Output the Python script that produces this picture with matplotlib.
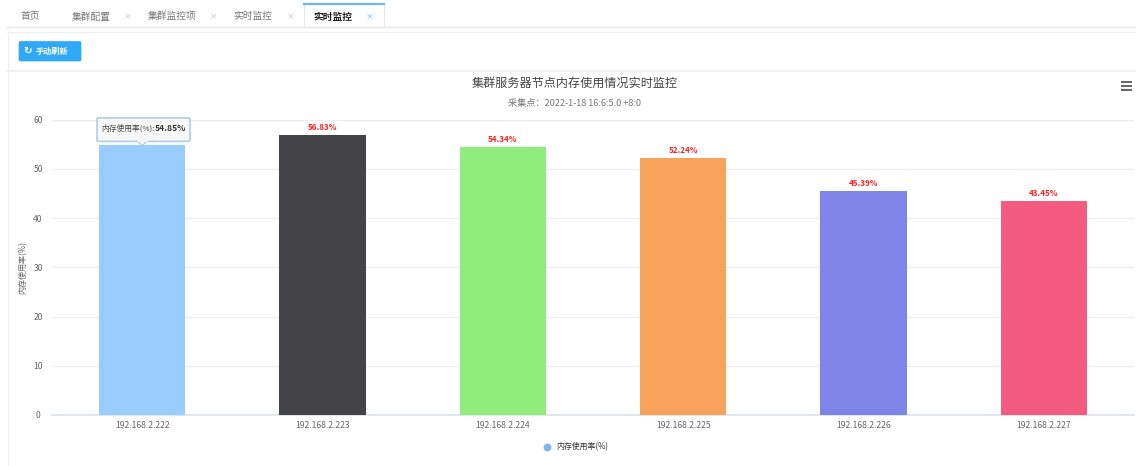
import matplotlib
matplotlib.use("Agg")
import matplotlib.pyplot as plt
from matplotlib.patches import Rectangle, FancyBboxPatch, Polygon

plt.rcParams['font.family'] = ['Noto Sans CJK SC', 'DejaVu Sans']

# chart data
hosts = ["192.168.2.222", "192.168.2.223", "192.168.2.224",
         "192.168.2.225", "192.168.2.226", "192.168.2.227"]
usage = [54.85, 56.83, 54.34, 52.24, 45.39, 43.45]
colors = ["#99ccff", "#434348", "#90ed7d", "#f7a35c", "#8085e9", "#f45b81"]
y_ticks = [0, 10, 20, 30, 40, 50, 60]
tabs = ["首页", "集群配置", "集群监控项", "实时监控", "实时监控"]
tab_x = [30, 91, 172, 253, 333]

W, H = 1136, 466
fig = plt.figure(figsize=(W / 100, H / 100), dpi=100, facecolor="white")

# page chrome, in pixel coordinates
bg = fig.add_axes([0, 0, 1, 1])
bg.set_xlim(0, W)
bg.set_ylim(H, 0)
bg.axis("off")

bg.plot([7, 1136], [27, 27], color="#e8e8e8", lw=1)
bg.plot([7, 1136], [31.5, 31.5], color="#f0f0f0", lw=0.8)
bg.plot([7.5, 7.5], [31, 466], color="#f0f0f0", lw=0.8)
bg.plot([7, 1136], [70.5, 70.5], color="#f0f0f0", lw=1.2)

# tab bar
bg.add_patch(Rectangle((304, 3), 80, 24, fc="white", ec="#e8e8e8", lw=0.8))
bg.plot([304, 384], [3.5, 3.5], color="#6fb8f0", lw=1.6)
for i, (t, x) in enumerate(zip(tabs, tab_x)):
    active = i == len(tabs) - 1
    bg.text(x, 16.5, t, ha="center", va="center", fontsize=7.0,
            color="#222222" if active else "#777777",
            fontweight="bold" if active else "normal")
for x, c in [(127.5, "#bbbbbb"), (213.5, "#bbbbbb"), (290.5, "#bbbbbb"), (369.5, "#5ab4f0")]:
    bg.text(x, 16, "×", ha="center", va="center", fontsize=5.5, color=c)

# refresh button
bg.add_patch(FancyBboxPatch((19, 41.5), 62, 19.5, boxstyle="round,pad=0,rounding_size=1.5",
                            fc="#2fa9f8", ec="#2fa9f8", lw=0.5))
bg.text(27.5, 51, "↻", ha="center", va="center", fontsize=7.5, color="white", fontweight="bold")
bg.text(52, 51, "手动刷新", ha="center", va="center", fontsize=5.9, color="white", fontweight="bold")

# titles
bg.text(575, 83, "集群服务器节点内存使用情况实时监控", ha="center", va="center",
        fontsize=8.7, color="#444444")
bg.text(574.5, 103.5, "采集点：2022-1-18 16:6:5.0 +8:0", ha="center", va="center",
        fontsize=6.6, color="#777777")

# context menu icon
for y in [82, 86, 89.7]:
    bg.plot([1121, 1132], [y, y], color="#666666", lw=1.4, solid_capstyle="butt")

# plot area
ax = fig.add_axes([52 / W, 1 - 415 / H, (1134 - 52) / W, (415 - 119.5) / H], facecolor="none")
x = list(range(len(hosts)))
ax.bar(x, usage, width=0.477, color=colors, zorder=3)
ax.set_xlim(-0.5, 5.5)
ax.set_ylim(0, 60)
ax.set_yticks(y_ticks)
ax.set_xticks(x)
ax.set_xticklabels(hosts)
ax.grid(axis="y", color="#eeeeee", lw=0.9, zorder=0)
ax.tick_params(axis="both", length=0, labelsize=6.2, labelcolor="#666666")
ax.tick_params(axis="x", pad=4)
ax.tick_params(axis="y", pad=10)
for label in ax.get_yticklabels():
    label.set_ha("center")
for s in ["top", "left", "right"]:
    ax.spines[s].set_visible(False)
ax.spines["bottom"].set_color("#dde2ea")
ax.spines["bottom"].set_linewidth(1.2)
ax.set_ylabel("内存使用率(%)", fontsize=5.8, color="#666666", labelpad=0)
ax.yaxis.set_label_coords((27 - 52) / (1134 - 52), 0.5)

# value labels
for i, v in enumerate(usage):
    ax.annotate(f"{v:.2f}%", (i, v), xytext=(0, 3), textcoords="offset pixels",
                ha="center", va="bottom", fontsize=5.8, color="#ff2020", fontweight="bold",
                alpha=0.2 if i == 0 else 1, zorder=4)

# tooltip on the first bar
tip_x, tip_y = ax.transData.transform((0, usage[0]))
tip_y = H - tip_y
top = fig.add_axes([0, 0, 1, 1], facecolor="none")
top.set_xlim(0, W)
top.set_ylim(H, 0)
top.axis("off")
top.add_patch(FancyBboxPatch((97, tip_y - 27), 93, 23.5, boxstyle="round,pad=0,rounding_size=1.5",
                             fc="#f8f8f8", ec="#a9c8e8", lw=1.2, alpha=0.9))
top.add_patch(Polygon([(tip_x - 5, tip_y - 3.5), (tip_x + 5, tip_y - 3.5), (tip_x, tip_y + 0.5)],
                      fc="#f8f8f8", ec="#a9c8e8", lw=0.8))
top.plot([tip_x - 4.5, tip_x + 4.5], [tip_y - 3.5, tip_y - 3.5], color="#f8f8f8", lw=1.3)
top.text(101.5, tip_y - 16, "内存使用率(%):", ha="left", va="center", fontsize=5.6, color="#444444")
top.text(155, tip_y - 16, f"{usage[0]:.2f}%", ha="left", va="center", fontsize=6.2,
         color="#333333", fontweight="bold")

# legend
top.plot([547], [447], marker="o", ms=5.6, color="#7cb5ec", mec="none")
top.text(556, 447, "内存使用率(%)", ha="left", va="center", fontsize=5.7, color="#333333")

fig.savefig("out.png", dpi=100)
